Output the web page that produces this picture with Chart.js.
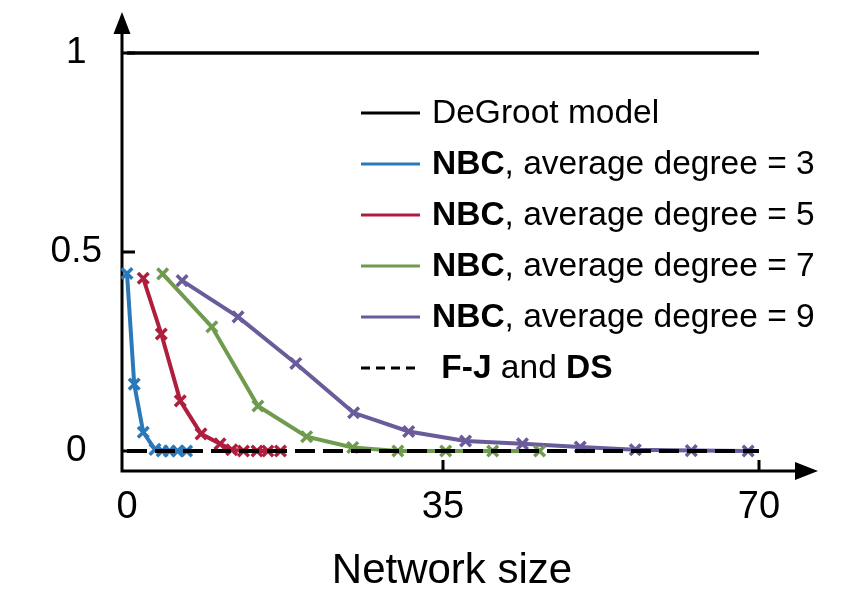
<!DOCTYPE html>
<html>
<head>
<meta charset="utf-8">
<script src="https://cdn.jsdelivr.net/npm/chart.js@4/dist/chart.umd.min.js"></script>
<style>
  html, body { margin: 0; padding: 0; background: #ffffff; }
  #wrap { width: 851px; height: 592px; }
</style>
</head>
<body>
<div id="wrap"><canvas id="c" width="851" height="592"></canvas></div>
<script>
// Tick values
const xTicks = [0, 35, 70];
const yTicks = [0, 0.5, 1];
const xTitle = 'Network size';

// DeGroot model: consensus value stays at 1
const degrootX = [0, 70];
const degrootY = [1, 1];

// NBC, average degree = 3
const deg3X = [0, 0.8, 1.8, 3.1, 3.9, 4.7, 5.6, 6.6];
const deg3Y = [0.446, 0.168, 0.047, 0.004, 0, 0, 0, 0];

// NBC, average degree = 5
const deg5X = [1.8, 3.8, 5.9, 8.2, 10.3, 11.6, 12.9, 14.4, 15.6, 17.0];
const deg5Y = [0.434, 0.294, 0.126, 0.043, 0.018, 0.003, 0, 0, 0, 0];

// NBC, average degree = 7
const deg7X = [3.95, 9.4, 14.5, 19.9, 25.0, 30.0, 35.3, 40.5, 45.7];
const deg7Y = [0.445, 0.312, 0.113, 0.036, 0.009, 0, 0, 0, 0];

// NBC, average degree = 9
const deg9X = [6.1, 12.3, 18.7, 25.1, 31.2, 37.5, 43.8, 50.2, 56.3, 62.5, 68.8];
const deg9Y = [0.428, 0.337, 0.22, 0.096, 0.049, 0.025, 0.018, 0.01, 0.003, 0.001, 0];

// F-J and DS stay at 0
const fjX = [0, 70];
const fjY = [0, 0];

// Legend labels (text between ** is bold)
const legendLabels = [
  'DeGroot model',
  '**NBC**, average degree = 3',
  '**NBC**, average degree = 5',
  '**NBC**, average degree = 7',
  '**NBC**, average degree = 9',
  ' **F-J** and **DS**'
];

const FONT = "'Liberation Sans', Arial, Helvetica, sans-serif";
const pts = (xs, ys) => xs.map((x, i) => ({ x: x, y: ys[i] }));

function nbcSeries(label, xs, ys, color) {
  return {
    label: label,
    data: pts(xs, ys),
    borderColor: color,
    backgroundColor: color,
    borderWidth: 4,
    pointStyle: 'crossRot',
    pointRadius: 7.5,
    pointBorderWidth: 3.5,
    pointBorderColor: color,
    tension: 0,
    clip: false,
    order: 1
  };
}

const datasets = [
  {
    label: legendLabels[0],
    data: pts(degrootX, degrootY),
    borderColor: '#000000',
    borderWidth: 3.5,
    pointRadius: 0,
    clip: false,
    order: 2
  },
  nbcSeries(legendLabels[1], deg3X, deg3Y, '#2b79b8'),
  nbcSeries(legendLabels[2], deg5X, deg5Y, '#b01e3e'),
  nbcSeries(legendLabels[3], deg7X, deg7Y, '#6f9b4e'),
  nbcSeries(legendLabels[4], deg9X, deg9Y, '#6a5b9b'),
  {
    label: legendLabels[5],
    data: pts(fjX, fjY),
    borderColor: '#000000',
    borderWidth: 4,
    borderDash: [20, 8],
    pointRadius: 0,
    clip: false,
    order: 0,
    legendDash: [9, 6]
  }
];

// Arrowed axes with inward ticks and the x-axis title
const axesPlugin = {
  id: 'arrowAxes',
  beforeDatasetsDraw(chart) {
    const ctx = chart.ctx;
    const xs = chart.scales.x, ys = chart.scales.y;
    const ax = xs.getPixelForValue(0) - 5;
    const ay = ys.getPixelForValue(0) + 20;
    const yTop = ys.getPixelForValue(1) - 41;
    const xEnd = xs.getPixelForValue(70) + 59;
    ctx.save();
    ctx.strokeStyle = '#000';
    ctx.fillStyle = '#000';
    ctx.lineWidth = 3;
    ctx.lineCap = 'butt';
    // axis lines
    ctx.beginPath();
    ctx.moveTo(ax, ay + 1.5);
    ctx.lineTo(ax, yTop + 20);
    ctx.moveTo(ax - 1.5, ay);
    ctx.lineTo(xEnd - 22, ay);
    ctx.stroke();
    // arrow heads
    ctx.beginPath();
    ctx.moveTo(ax, yTop);
    ctx.lineTo(ax - 8.5, yTop + 22);
    ctx.lineTo(ax + 8.5, yTop + 22);
    ctx.closePath();
    ctx.fill();
    ctx.beginPath();
    ctx.moveTo(xEnd, ay);
    ctx.lineTo(xEnd - 23, ay - 9);
    ctx.lineTo(xEnd - 23, ay + 9);
    ctx.closePath();
    ctx.fill();
    // y ticks
    ctx.beginPath();
    yTicks.forEach(v => {
      const p = ys.getPixelForValue(v);
      ctx.moveTo(ax, p);
      ctx.lineTo(ax + 13, p);
    });
    // x ticks (the origin sits on the y axis)
    xTicks.filter(v => v !== 0).forEach(v => {
      const p = xs.getPixelForValue(v);
      ctx.moveTo(p, ay);
      ctx.lineTo(p, ay - 11);
    });
    ctx.stroke();
    // x-axis title, centred under the arrowed axis
    ctx.font = '42px ' + FONT;
    ctx.textAlign = 'center';
    ctx.textBaseline = 'middle';
    ctx.fillText(xTitle, (xs.left + xs.right) / 2 + 9, xs.bottom - 21);
    ctx.restore();
  }
};

// Legend with mixed bold / regular text
const legendPlugin = {
  id: 'richLegend',
  afterDraw(chart) {
    const ctx = chart.ctx;
    const x0 = 361, x1 = 420, tx = 432, top = 113, step = 51;
    ctx.save();
    ctx.textBaseline = 'middle';
    ctx.fillStyle = '#000';
    chart.data.datasets.forEach((ds, i) => {
      const y = top + i * step;
      ctx.beginPath();
      ctx.strokeStyle = ds.borderColor;
      ctx.lineWidth = 3;
      ctx.setLineDash(ds.legendDash || []);
      ctx.moveTo(x0, y);
      ctx.lineTo(x1, y);
      ctx.stroke();
      ctx.setLineDash([]);
      let x = tx;
      ds.label.split('**').forEach((part, k) => {
        if (!part) return;
        ctx.font = (k % 2 === 1 ? 'bold ' : '') + '33.5px ' + FONT;
        ctx.fillText(part, x, y + 1);
        x += ctx.measureText(part).width;
      });
    });
    ctx.restore();
  }
};

new Chart(document.getElementById('c'), {
  type: 'line',
  data: { datasets: datasets },
  plugins: [axesPlugin, legendPlugin],
  options: {
    responsive: false,
    devicePixelRatio: 1,
    animation: false,
    events: [],
    layout: { padding: { top: 53, right: 92, left: 0, bottom: 0 } },
    plugins: { legend: { display: false }, tooltip: { enabled: false }, title: { display: false } },
    scales: {
      x: {
        type: 'linear',
        min: 0,
        max: 70,
        grid: { display: false, drawTicks: false },
        border: { display: false },
        afterBuildTicks: s => { s.ticks = xTicks.map(v => ({ value: v })); },
        afterFit: s => { s.height = 141; },
        ticks: {
          autoSkip: false,
          maxRotation: 0,
          padding: 34,
          color: '#000',
          font: { family: FONT, size: 38 },
          callback: v => String(v)
        },
        title: { display: false }
      },
      y: {
        type: 'linear',
        min: 0,
        max: 1,
        grid: { display: false, drawTicks: false },
        border: { display: false },
        afterBuildTicks: s => { s.ticks = yTicks.map(v => ({ value: v })); },
        afterFit: s => { s.width = 127; },
        ticks: {
          crossAlign: 'center',
          padding: 25,
          color: '#000',
          font: { family: FONT, size: 37 },
          callback: v => String(v)
        }
      }
    }
  }
});
</script>
</body>
</html>
